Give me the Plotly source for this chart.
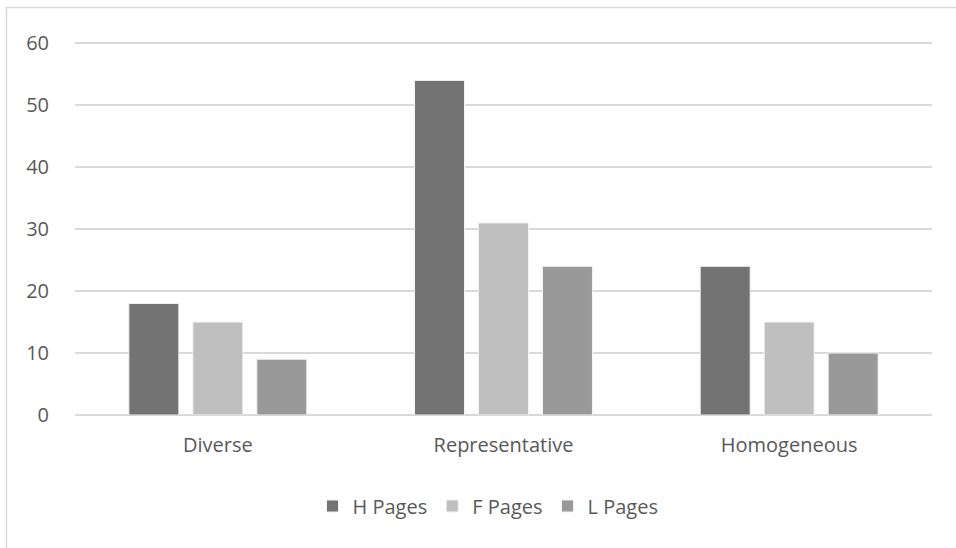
import plotly.graph_objects as go

categories = ["Diverse", "Representative", "Homogeneous"]
h_pages = [18, 54, 24]
f_pages = [15, 31, 15]
l_pages = [9, 24, 10]
series_names = ["H Pages", "F Pages", "L Pages"]
colors = ["#737373", "#bfbfbf", "#999999"]
y_ticks = [0, 10, 20, 30, 40, 50, 60]

FONT = "Open Sans"
fig = go.Figure()
for name, vals, col in zip(series_names, [h_pages, f_pages, l_pages], colors):
    fig.add_trace(go.Bar(x=categories, y=vals, name=name,
                         marker=dict(color=col, line=dict(color="#f2f2f2", width=1))))

W, H = 956, 548
l, r, t, b = 75, 24, 37, 133
pw, ph = W - l - r, H - t - b

fig.update_layout(
    width=W, height=H,
    margin=dict(l=l, r=r, t=t, b=b),
    paper_bgcolor="white", plot_bgcolor="white",
    barmode="group", bargap=0.328, bargroupgap=0.219,
    font=dict(family=FONT, color="#595959", size=20),
    showlegend=True,
    legend=dict(orientation="h", x=(488 - l) / pw, xanchor="center",
                y=(H - b - 506) / ph, yanchor="middle",
                font=dict(size=20, color="#595959"), itemwidth=30,
                traceorder="normal"),
    xaxis=dict(showgrid=False, showline=False, ticks="", tickfont=dict(size=20),
               ticklabelstandoff=16),
    yaxis=dict(range=[0, 61], tickvals=y_ticks, showgrid=True,
               gridcolor="#d9d9d9", gridwidth=1.5,
               zeroline=True, zerolinecolor="#d9d9d9", zerolinewidth=1.5,
               showline=False, ticks="", tickfont=dict(size=20), ticklabelstandoff=25),
)

fig.add_shape(type="rect", xref="paper", yref="paper",
              x0=(6.5 - l) / pw, x1=(W + 20 - l) / pw,
              y0=(H - b - (H + 20)) / ph, y1=(H - b - 7.5) / ph,
              line=dict(color="#d9d9d9", width=1.5), fillcolor="rgba(0,0,0,0)", layer="below")

fig.write_html("out.html")
